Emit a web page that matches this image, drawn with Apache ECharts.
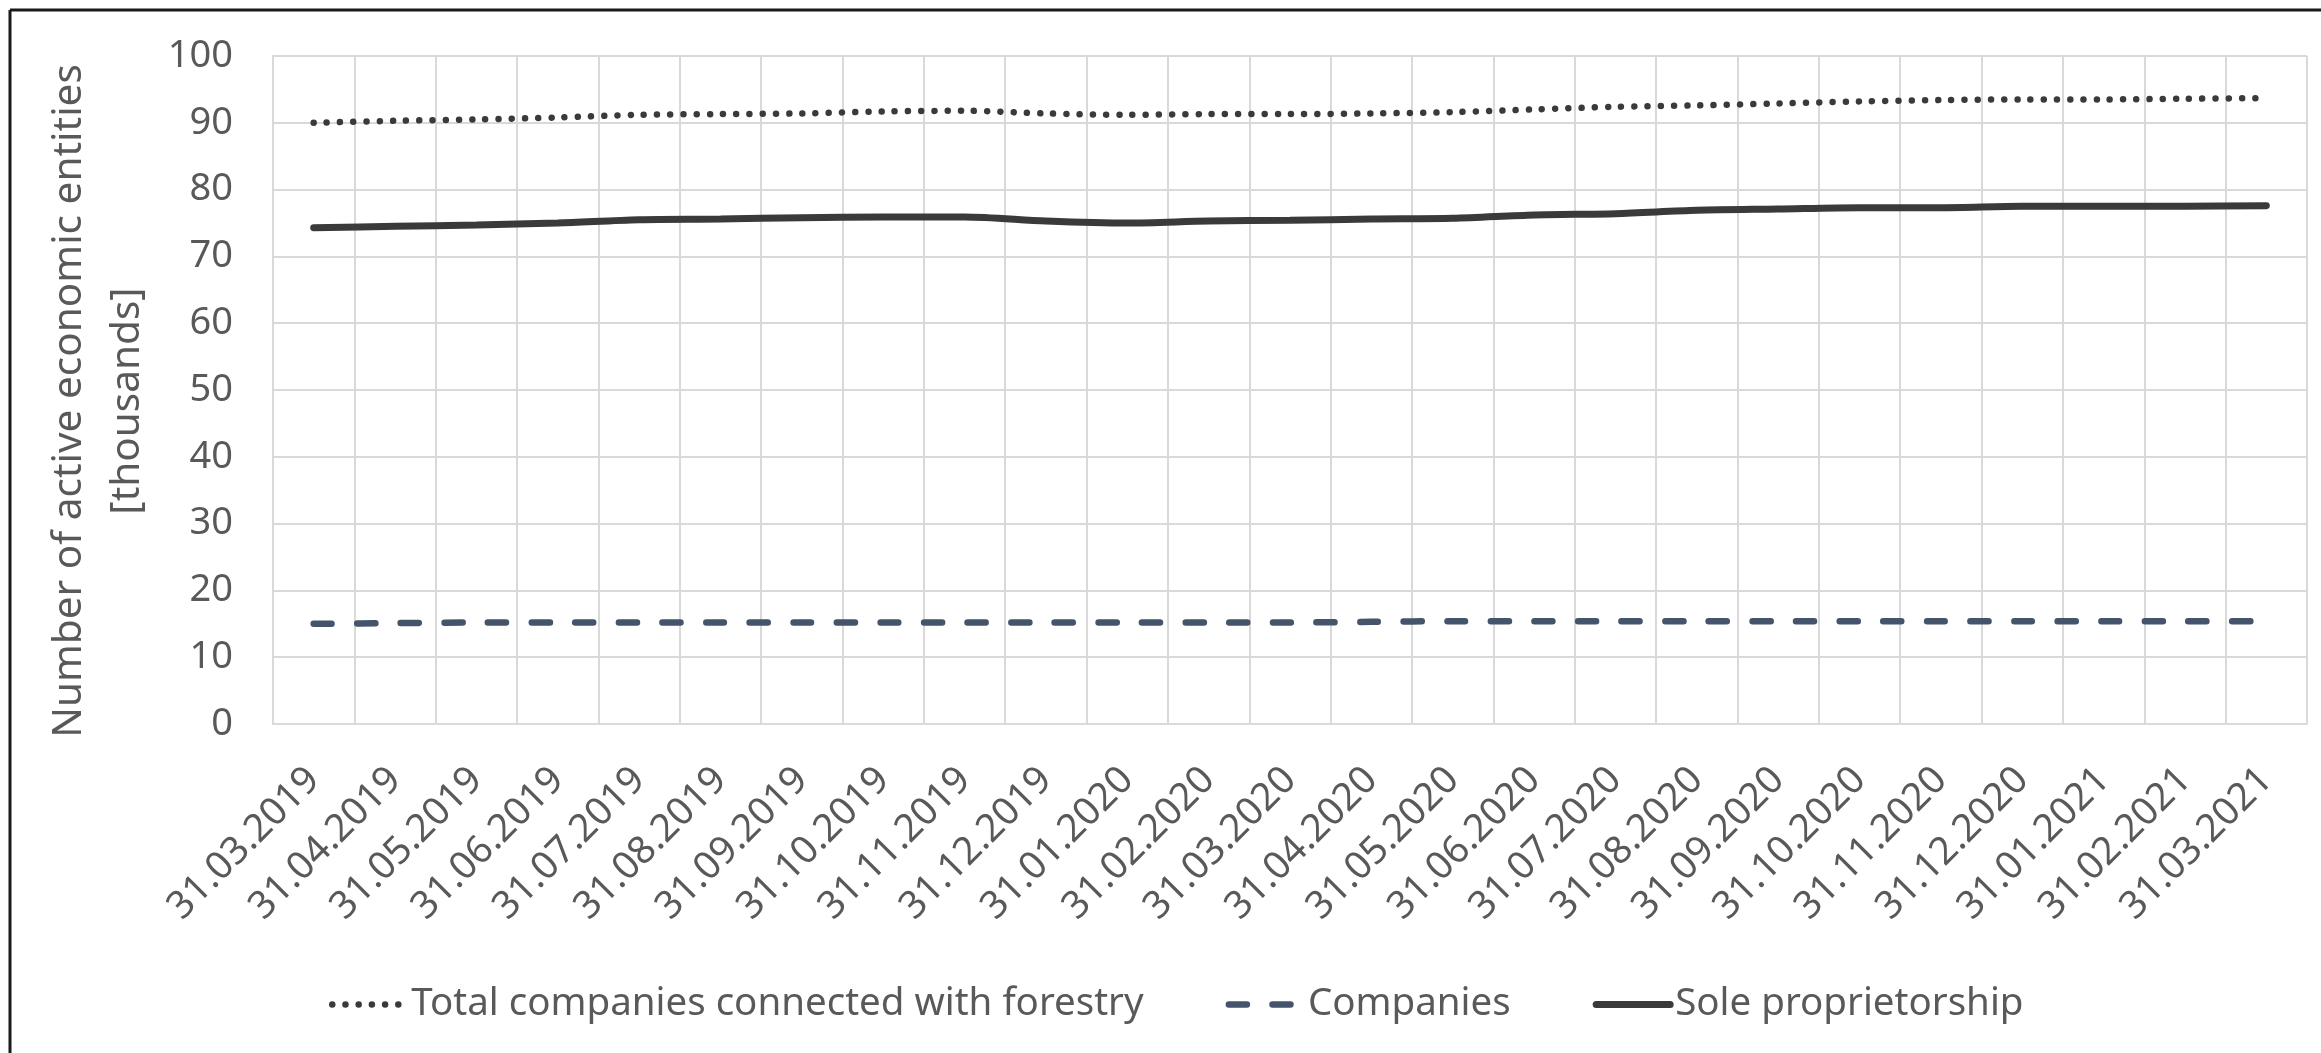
<!DOCTYPE html>
<html>
<head>
<meta charset="utf-8">
<script src="https://cdn.jsdelivr.net/npm/echarts@6/dist/echarts.min.js"></script>
<style>
  html, body { margin: 0; padding: 0; background: #ffffff; }
  #chart { width: 2321px; height: 1053px; }
</style>
</head>
<body>
<div id="chart"></div>
<script>
// Month-end reporting dates
const months = [
  '31.03.2019', '31.04.2019', '31.05.2019', '31.06.2019', '31.07.2019',
  '31.08.2019', '31.09.2019', '31.10.2019', '31.11.2019', '31.12.2019',
  '31.01.2020', '31.02.2020', '31.03.2020', '31.04.2020', '31.05.2020',
  '31.06.2020', '31.07.2020', '31.08.2020', '31.09.2020', '31.10.2020',
  '31.11.2020', '31.12.2020', '31.01.2021', '31.02.2021', '31.03.2021'
];

// Active economic entities, thousands
const totalForestry = [
  90.0, 90.3, 90.5, 90.8, 91.2, 91.3, 91.4, 91.7, 91.8, 91.4,
  91.2, 91.3, 91.3, 91.4, 91.6, 92.0, 92.4, 92.6, 92.9, 93.2,
  93.4, 93.5, 93.5, 93.6, 93.7
];
const companies = [
  15.0, 15.1, 15.2, 15.2, 15.2, 15.2, 15.2, 15.2, 15.2, 15.2,
  15.2, 15.2, 15.2, 15.3, 15.4, 15.4, 15.4, 15.4, 15.4, 15.4,
  15.4, 15.4, 15.4, 15.4, 15.4
];
const soleProprietorship = [
  74.3, 74.5, 74.7, 75.0, 75.5, 75.6, 75.8, 75.9, 75.9, 75.3,
  75.0, 75.3, 75.4, 75.6, 75.7, 76.2, 76.4, 76.9, 77.1, 77.3,
  77.3, 77.5, 77.5, 77.5, 77.6
];

const yTicks = { min: 0, max: 100, step: 10 };

const FONT = 'Noto Sans';
const TEXT = '#595959';
const GRID = '#D9D9D9';

const chart = echarts.init(document.getElementById('chart'), null, { renderer: 'canvas' });

chart.setOption({
  animation: false,
  backgroundColor: '#ffffff',
  textStyle: { fontFamily: FONT },
  graphic: [
    // frame edges along the top and left of the figure
    { type: 'line', shape: { x1: 10, y1: 10, x2: 2321, y2: 10 }, style: { stroke: '#1a1a1a', lineWidth: 3 } },
    { type: 'line', shape: { x1: 10, y1: 10, x2: 10, y2: 1053 }, style: { stroke: '#1a1a1a', lineWidth: 3 } }
  ],
  grid: { left: 273, top: 56, width: 2034, height: 668, containLabel: false },
  legend: {
    left: 324,
    top: 980,
    itemWidth: 74,
    itemHeight: 14,
    itemGap: 82,
    itemStyle: { opacity: 0 },
    lineStyle: { width: 'inherit' },
    textStyle: { fontFamily: FONT, fontSize: 38.5, color: TEXT },
    data: ['Total companies connected with forestry', 'Companies', 'Sole proprietorship']
  },
  xAxis: {
    type: 'category',
    data: months,
    boundaryGap: true,
    axisLine: { show: true, lineStyle: { color: GRID, width: 2 } },
    axisTick: { show: false },
    splitLine: { show: true, interval: 0, lineStyle: { color: GRID, width: 2 } },
    axisLabel: {
      interval: 0,
      rotate: 45,
      margin: 50,
      fontFamily: FONT,
      fontSize: 38.5,
      color: TEXT
    }
  },
  yAxis: {
    type: 'value',
    min: yTicks.min,
    max: yTicks.max,
    interval: yTicks.step,
    name: 'Number of active economic entities\n[thousands]',
    nameLocation: 'middle',
    nameRotate: 90,
    nameGap: 104,
    nameTextStyle: {
      fontFamily: FONT, fontSize: 40.5, color: TEXT, lineHeight: 58, align: 'center',
      padding: [0, 22, 0, 0]
    },
    axisLine: { show: true, lineStyle: { color: GRID, width: 2 } },
    axisTick: { show: false },
    splitLine: { show: true, lineStyle: { color: GRID, width: 2 } },
    axisLabel: { margin: 40, fontFamily: FONT, fontSize: 38, color: TEXT }
  },
  series: [
    {
      name: 'Total companies connected with forestry',
      type: 'line',
      data: totalForestry,
      symbol: 'none',
      smooth: 0.3,
      lineStyle: { color: '#3a3a3a', width: 6.5, type: [0.01, 13.2], cap: 'round' },
      itemStyle: { color: '#3a3a3a' }
    },
    {
      name: 'Companies',
      type: 'line',
      data: companies,
      symbol: 'none',
      smooth: 0.3,
      lineStyle: { color: '#44546A', width: 6.5, type: [18, 25.6], cap: 'round' },
      itemStyle: { color: '#44546A' }
    },
    {
      name: 'Sole proprietorship',
      type: 'line',
      data: soleProprietorship,
      symbol: 'none',
      smooth: 0.3,
      lineStyle: { color: '#3a3a3a', width: 7, cap: 'round' },
      itemStyle: { color: '#3a3a3a' }
    }
  ]
});
</script>
</body>
</html>
